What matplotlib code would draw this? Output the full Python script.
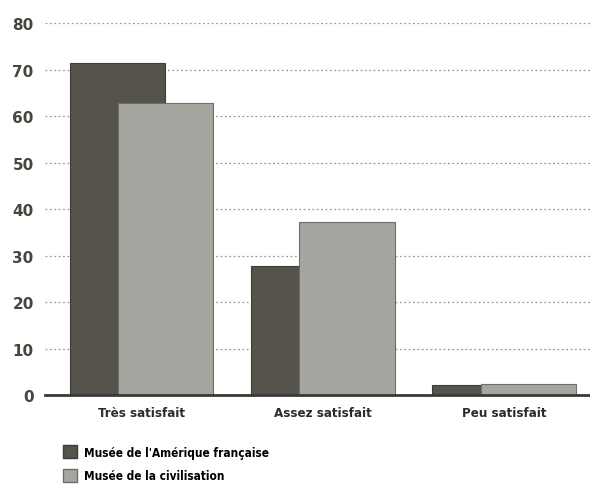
import numpy as np
import matplotlib.pyplot as plt
from matplotlib.patches import Patch

categories = ["Très satisfait", "Assez satisfait", "Peu satisfait"]
amerique = [71.3, 27.7, 2.2]
civilisation = [62.8, 37.2, 2.4]
series_names = ["Musée de l'Amérique française", "Musée de la civilisation"]

dark = "#55534b"
light = "#a4a69f"

fig = plt.figure(figsize=(5.9, 4.85), dpi=100)
ax = fig.add_axes([0.076, 0.1835, 0.924, 0.767])

x = np.arange(len(categories))
w = 0.525
off = 0.133
ax.bar(x - off, amerique, w, color=dark, edgecolor="#3e3d38", linewidth=0.8, zorder=2)
ax.bar(x + off, civilisation, w, color=light, edgecolor="#6e6f69", linewidth=0.8, zorder=3)

ax.set_ylim(0, 80)
ax.set_xlim(-0.536, 2.475)
ax.set_yticks(range(0, 81, 10))
ax.set_xticks(x)
ax.set_xticklabels(categories, fontstretch="condensed", fontweight="bold", fontsize=9.5, color="#2b2b2b")
for lbl in ax.get_yticklabels():
    lbl.set_fontweight("bold")
    lbl.set_fontsize(11)
    lbl.set_color("#46463f")
ax.tick_params(axis="y", length=0, pad=8)
ax.tick_params(axis="x", length=0, pad=8)

ax.grid(axis="y", linestyle=(0, (1.5, 2)), color="#9a9a9a", linewidth=0.9, zorder=0)
ax.set_axisbelow(True)
for s in ["top", "right", "left"]:
    ax.spines[s].set_visible(False)
ax.spines["bottom"].set_linewidth(2)
ax.spines["bottom"].set_color("#3a3a35")
ax.spines["bottom"].set_zorder(4)

handles = [Patch(facecolor=dark, edgecolor="#3e3d38"),
           Patch(facecolor=light, edgecolor="#6e6f69")]
fig.legend(handles, series_names, loc="lower left", bbox_to_anchor=(0.088, -0.018),
           frameon=False, handlelength=1.2, handleheight=1.3, handletextpad=0.6,
           labelspacing=0.85, prop={"stretch": "condensed", "weight": "bold", "size": 8.5})

plt.savefig("out.png", dpi=100)
